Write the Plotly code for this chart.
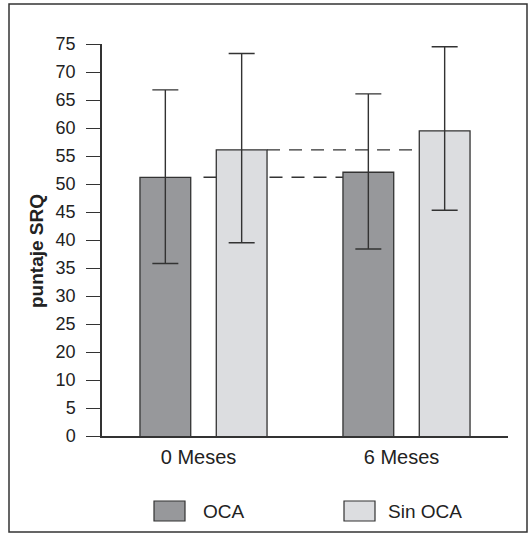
import plotly.graph_objects as go

# ---- data ----
categories = ["0 Meses", "6 Meses"]
series_names = ["OCA", "Sin OCA"]
oca_mean = [51.2, 52.1]
oca_err_plus = [15.6, 14.0]
oca_err_minus = [15.4, 13.7]
sin_mean = [56.1, 59.5]
sin_err_plus = [17.2, 15.0]
sin_err_minus = [16.6, 14.2]
# tick labels as printed in the original (the "15" label is missing there)
tick_vals = [5, 10, 15, 20, 25, 30, 35, 40, 45, 50, 55, 60, 65, 70, 75]
tick_text = ["0", "5", "10", "20", "25", "30", "35", "40", "45", "50",
             "55", "60", "65", "70", "75"]
y_title = "puntaje SRQ"

colors = ["#97989b", "#dcdde0"]
dark = "#333333"
font_family = "Liberation Sans, Arial, sans-serif"

W, H = 530, 534
L, R, T, B = 102, 22, 44, 98
pw, ph = W - L - R, H - T - B


def px_x(px):
    return (px - L) / pw


def px_y(py):
    return (H - B - py) / ph


fig = go.Figure()
for name, mean, ep, em, col in [
    (series_names[0], oca_mean, oca_err_plus, oca_err_minus, colors[0]),
    (series_names[1], sin_mean, sin_err_plus, sin_err_minus, colors[1]),
]:
    fig.add_trace(go.Bar(
        x=categories, y=mean, name=name,
        marker=dict(color=col, line=dict(color=dark, width=1.3)),
        error_y=dict(type="data", array=ep, arrayminus=em, symmetric=False,
                     color=dark, thickness=1.4, width=13),
        showlegend=False,
    ))

# dashed reference lines (baseline levels at 0 Meses carried to 6 Meses)
slot = (1 - 0.248) / 2
bw = slot * (1 - 0.335)
shapes = [
    dict(type="line", xref="x", yref="y", layer="below",
         x0=0, x1=1 - slot / 2 - bw / 2, y0=oca_mean[0], y1=oca_mean[0],
         line=dict(color=dark, width=1.4, dash="13px,9px")),
    dict(type="line", xref="x", yref="y", layer="below",
         x0=slot / 2 + bw / 2, x1=1 + slot / 2 - bw / 2, y0=sin_mean[0], y1=sin_mean[0],
         line=dict(color=dark, width=1.4, dash="13px,9px")),
    # outer frame
    dict(type="rect", xref="paper", yref="paper",
         x0=px_x(9), x1=px_x(527), y0=px_y(532), y1=px_y(4),
         line=dict(color=dark, width=1.5), fillcolor="rgba(0,0,0,0)"),
]

# legend drawn as large swatches
annotations = []
for name, col, sx, tx in [(series_names[0], colors[0], 154, 201),
                           (series_names[1], colors[1], 344, 386)]:
    shapes.append(dict(type="rect", xref="paper", yref="paper",
                       x0=px_x(sx), x1=px_x(sx + 31), y0=px_y(521), y1=px_y(501),
                       fillcolor=col, line=dict(color=dark, width=1.2)))
    annotations.append(dict(xref="paper", yref="paper", x=px_x(tx), y=px_y(511),
                            xanchor="left", yanchor="middle", text=name, showarrow=False,
                            font=dict(size=19, color="#222", family=font_family)))

# y-axis title (placed slightly below the axis centre, as in the original)
annotations.append(dict(xref="paper", yref="paper", x=px_x(36), y=px_y(251),
                        xanchor="center", yanchor="middle", textangle=-90,
                        text="<b>" + y_title + "</b>", showarrow=False,
                        font=dict(size=19, color="#222", family=font_family)))

fig.update_layout(
    width=W, height=H,
    margin=dict(l=L, r=R, t=T, b=B, autoexpand=False),
    paper_bgcolor="white", plot_bgcolor="white",
    barmode="group", bargap=0.248, bargroupgap=0.335,
    font=dict(family=font_family, color="#222"),
    shapes=shapes, annotations=annotations,
    xaxis=dict(showline=True, linecolor=dark, linewidth=1.5, ticks="",
               showgrid=False, zeroline=False,
               tickfont=dict(size=20, color="#222"), ticklabelshift=-5,
               ticklabelstandoff=2),
    yaxis=dict(range=[5, 75], tickvals=tick_vals, ticktext=tick_text,
               showline=True, linecolor=dark, linewidth=1.5,
               ticks="outside", ticklen=14, tickwidth=1.4, tickcolor=dark,
               showgrid=False, zeroline=False,
               tickfont=dict(size=18, color="#222"), ticklabelstandoff=7),
)

fig.write_html("out.html")
